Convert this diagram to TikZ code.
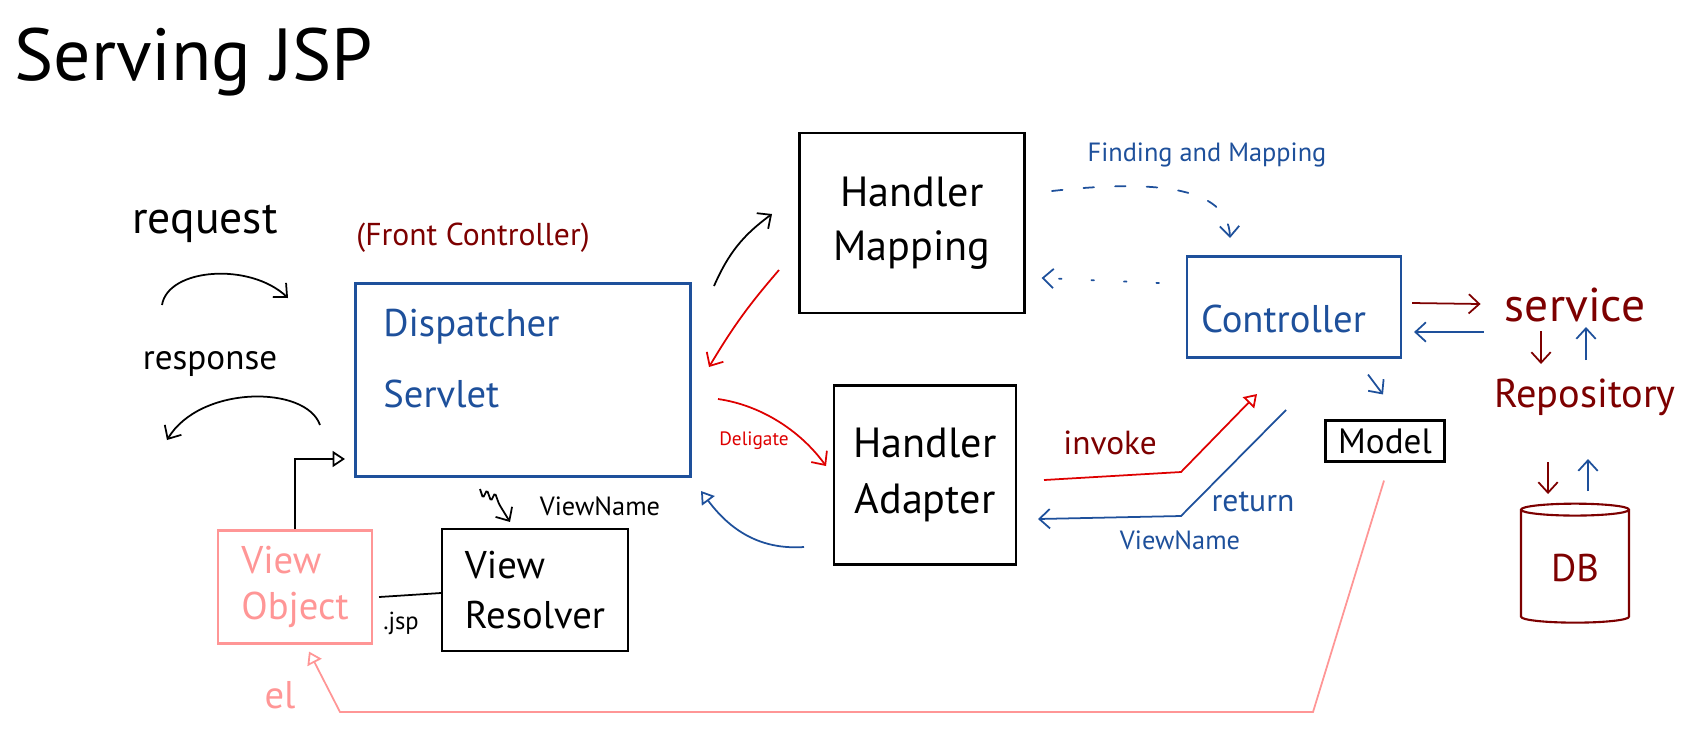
\documentclass[tikz,border=0pt]{standalone}
\usepackage{fontspec}
\setmainfont{PT Sans}
\usetikzlibrary{arrows.meta,positioning,calc,shapes.geometric}
\definecolor{inkblue}{RGB}{30,80,155}
\definecolor{inkmaroon}{RGB}{125,0,0}
\definecolor{inkred}{RGB}{222,0,0}
\definecolor{inkpink}{RGB}{255,150,150}
\newcommand{\inksize}[2]{\fontsize{#1}{#2}\selectfont}

\begin{document}
\begin{tikzpicture}[x=0.02cm,y=-0.02cm,
  box/.style={draw,line width=1.2pt,align=center,inner sep=0pt},
  blue box/.style={box,draw=inkblue,text=inkblue},
  lbl/.style={inner sep=0pt,align=center},
  ink/.style={line width=1pt,-{Straight Barb[length=6pt,width=11pt]}},
  tri/.style={line width=1pt,-{Triangle[open,length=7pt,width=9pt]}}]
\useasboundingbox (0,0) rectangle (1692,735);

% boxes
\node[blue box,minimum width=6.7cm,minimum height=3.86cm] (ds) at (523,380) {};
\node[lbl,anchor=north west,align=left,text=inkblue,font=\inksize{22pt}{40pt}] (dstxt) at (383,309) {Dispatcher\\Servlet};
\node[box,minimum width=4.5cm,minimum height=3.6cm,font=\inksize{24pt}{31pt}] (hm) at (912,223) {Handler\\Mapping};
\node[blue box,minimum width=4.28cm,minimum height=2.02cm,font=\inksize{22pt}{26pt}] (ctrl) at (1294,307) {\raisebox{-7pt}[\height][\depth]{Controller\hspace{12pt}}};
\node[box,minimum width=3.64cm,minimum height=3.58cm,font=\inksize{24pt}{32pt}] (ha) at (925,475) {Handler\\Adapter};
\node[box,minimum width=2.38cm,minimum height=0.82cm,font=\inksize{20pt}{24pt}] (model) at (1385,441) {Model};
\node[box,minimum width=3.72cm,minimum height=2.44cm,align=left,font=\inksize{22pt}{28pt}] (vr) at (535,590) {View\\Resolver};
\node[box,draw=inkpink,text=inkpink,minimum width=3.08cm,minimum height=2.26cm,align=left,font=\inksize{22pt}{26pt}] (vo) at (295,587) {View\\Object};
\node[cylinder,shape border rotate=90,aspect=0.2,draw=inkmaroon,line width=1.2pt,text=inkmaroon,minimum width=2.16cm,minimum height=2.38cm,font=\inksize{22pt}{26pt}] (db) at (1575,568) {DB};

% texts
\node[lbl,anchor=base west,font=\inksize{42pt}{48pt}] (title) at (14,80) {Serving JSP};
\node[lbl,text=inkmaroon,font=\inksize{18pt}{22pt}] (fc) at (473,238) {(Front Controller)};
\node[lbl,font=\inksize{26pt}{30pt}] (req) at (205,224) {request};
\node[lbl,font=\inksize{20pt}{24pt}] (resp) at (210,364) {response};
\node[lbl,text=inkmaroon,font=\inksize{27pt}{32pt}] (svc) at (1575,305) {service};
\node[lbl,text=inkmaroon,font=\inksize{23pt}{28pt}] (repo) at (1585,397) {Repository};
\node[lbl,text=inkblue,font=\inksize{15pt}{18pt}] (fam) at (1207,155) {Finding and Mapping};
\node[lbl,text=inkmaroon,font=\inksize{19pt}{22pt}] (inv) at (1110,443) {invoke};
\node[lbl,text=inkblue,font=\inksize{18pt}{22pt}] (ret) at (1253,502) {return};
\node[lbl,text=inkblue,font=\inksize{15pt}{18pt}] (vn) at (1180,540) {ViewName};
\node[lbl,text=inkred,font=\inksize{11pt}{13pt}] (dlg) at (754,441) {Deligate};
\node[lbl,font=\inksize{15pt}{18pt}] (vn2) at (600,506) {ViewName};
\node[lbl,font=\inksize{14pt}{17pt}] (jsp) at (401,623) {.jsp};
\node[lbl,text=inkpink,font=\inksize{22pt}{26pt}] (el) at (280,695) {el};

% free ends
\coordinate (rq-a) at (162,305); \coordinate (rq-b) at (288,298);
\coordinate (rs-a) at (320,425); \coordinate (rs-b) at (167,440);
\coordinate (ds-in) at (345,459);
\coordinate (ds-out) at (714,286); \coordinate (hm-in) at (772,214);
\coordinate (hm-out) at (779,270); \coordinate (ds-back) at (709,367);
\coordinate (dlg-a) at (718,399); \coordinate (ha-in) at (826,466);
\coordinate (ha-out) at (804,547); \coordinate (ds-ret) at (701,491);
\coordinate (inv-a) at (1044,480); \coordinate (inv-k) at (1181,472); \coordinate (ctrl-in) at (1257,394);
\coordinate (ret-a) at (1286,410); \coordinate (ret-k) at (1181,516); \coordinate (ha-ret) at (1038,519);
\coordinate (fm-a) at (1052,191); \coordinate (fm-b) at (1230,238);
\coordinate (pk-a) at (1313,712); \coordinate (pk-b) at (340,712);

% request / response
\draw[ink] (rq-a) .. controls (168,268) and (250,262) .. (rq-b);
\draw[ink] (rs-a) .. controls (306,385) and (200,385) .. (rs-b);
\draw[tri] (vo.north) |- (ds-in);

% dispatcher <-> handlers
\draw[ink] (ds-out) to[bend left=15] (hm-in);
\draw[ink,inkred] (hm-out) to[bend right=5] (ds-back);
\draw[ink,inkred] (dlg-a) .. controls (760,405) and (800,430) .. (ha-in);
\draw[tri,inkblue] (ha-out) .. controls (760,550) and (730,530) .. (ds-ret);
\draw[tri,inkred] (inv-a) -- (inv-k) -- (ctrl-in);
\draw[ink,inkblue] (ret-a) -- (ret-k) -- (ha-ret);

% finding and mapping
\draw[ink,inkblue,dash pattern=on 6pt off 12pt,line cap=round] (fm-a) .. controls (1150,180) and (1228,185) .. (fm-b);
\draw[ink,inkblue,dash pattern=on 1.5pt off 17pt,line cap=round] ($(ctrl.west)+(-27,-24)$) -- ($(hm.east)+(16,55)$);
\draw[ink,inkblue] ($(ctrl.south)+(74,16)$) -- ($(model.north)+(-2,-25)$);

% service side
\draw[ink,inkmaroon] ($(ctrl.east)+(10,-4)$) -- ($(svc.west)+(-24,-1)$);
\draw[ink,inkblue] ($(svc.west)+(-21,27)$) -- ($(ctrl.east)+(12,25)$);
\draw[ink,inkmaroon] (1541,331) -- (1541,364);
\draw[ink,inkblue] (1586,360) -- (1586,327);
\draw[ink,inkmaroon] (1548,462) -- (1548,494);
\draw[ink,inkblue] (1588,491) -- (1588,459);

% view side
\draw[ink,rounded corners=1pt] (480,489) -- ++(3,9) -- ++(4,-8) -- ++(4,11) -- ++(4,-8) -- ++(4,11) -- ($(vr.north)+(-25,-6)$);
\draw[line width=1pt] ($(vo.east)+(6,10)$) -- ($(vr.west)+(0,3)$);
\draw[tri,inkpink] ($(model.south)+(-1,18)$) -- (pk-a) -- (pk-b) -- ($(vo.south)+(14,7)$);
\end{tikzpicture}
\end{document}
